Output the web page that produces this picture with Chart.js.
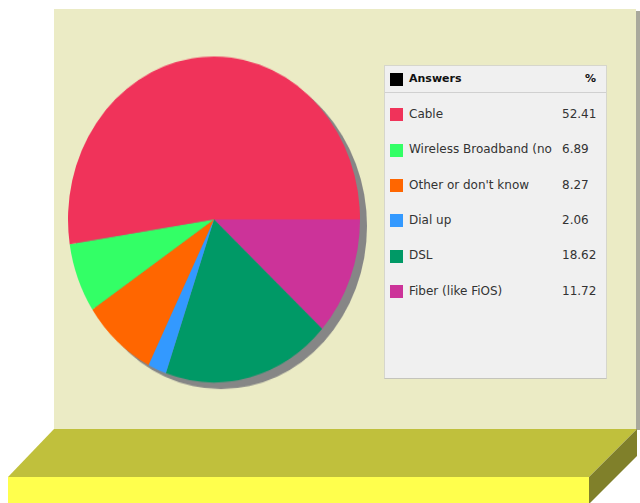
<!DOCTYPE html>
<html>
<head>
<meta charset="utf-8">
<script src="https://cdn.jsdelivr.net/npm/chart.js@4"></script>
<style>
  body { margin: 0; background: #fff; }
  #stage { position: relative; width: 640px; height: 503px; overflow: hidden; font-family: "DejaVu Sans", Verdana, sans-serif; }
  #bg { position: absolute; left: 0; top: 0; }
  #pieWrap { position: absolute; left: 64px; top: 52px; width: 310px; height: 310px; transform: scaleY(1.116); transform-origin: 0 0; }
  #legend { position: absolute; left: 384px; top: 65px; width: 221px; height: 312px; background: #f0f0f0; border: 1px solid #d6d6cc; border-bottom-color: #c4c4bc; }
  #legend .head { position: absolute; left: 0; top: 0; width: 221px; height: 26px; border-bottom: 1px solid #d0d0d0; }
  #legend .sw { position: absolute; left: 5px; width: 13px; height: 13px; }
  #legend .lab { position: absolute; left: 24px; width: 149px; overflow: hidden; white-space: nowrap; font-size: 12px; color: #333; }
  #legend .val { position: absolute; left: 177px; font-size: 12px; color: #333; }
  #legend .hlab { position: absolute; left: 24px; top: 6px; font-size: 11px; font-weight: bold; color: #111; }
  #legend .hval { position: absolute; right: 10px; top: 6px; font-size: 11px; font-weight: bold; color: #111; }
</style>
</head>
<body>
<div id="stage">
  <svg id="bg" width="640" height="503">
    <rect x="54" y="9" width="582" height="421" fill="#ebebc5"/>
    <rect x="636" y="11" width="4" height="419" fill="#a9a99c"/>
    <polygon points="54,429 637,429 589,477 8,477" fill="#c0c03c"/>
    <rect x="8" y="477" width="581" height="26" fill="#ffff4d"/>
    <polygon points="589,477 637,429 637,456 589,504" fill="#80802a"/>
  </svg>
  <div id="pieWrap"><canvas id="chart" width="310" height="310"></canvas></div>
  <div id="legend">
    <div class="head">
      <div class="sw" style="top:7px;background:#000"></div>
      <div class="hlab" id="headLabel"></div>
      <div class="hval" id="headValue"></div>
    </div>
  </div>
</div>
<script>
const headerLabel = "Answers";
const headerValue = "%";
const categories = ["Cable", "Wireless Broadband (no", "Other or don't know", "Dial up", "DSL", "Fiber (like FiOS)"];
const percents = [52.41, 6.89, 8.27, 2.06, 18.62, 11.72];
const colors = ["#f0335a", "#33ff66", "#ff6600", "#3399ff", "#009966", "#cc3399"];

// legend table on the right
const legend = document.getElementById("legend");
document.getElementById("headLabel").textContent = headerLabel;
document.getElementById("headValue").textContent = headerValue;
categories.forEach((name, i) => {
  const mid = 27 + 4 + 17.7 + i * 35.4;
  const sw = document.createElement("div");
  sw.className = "sw";
  sw.style.top = (mid - 6.5) + "px";
  sw.style.background = colors[i];
  const lab = document.createElement("div");
  lab.className = "lab";
  lab.style.top = (mid - 8) + "px";
  lab.textContent = name;
  const val = document.createElement("div");
  val.className = "val";
  val.style.top = (mid - 8) + "px";
  val.textContent = percents[i].toFixed(2);
  legend.append(sw, lab, val);
});

// grey drop shadow behind the pie
const pieShadow = {
  id: "pieShadow",
  beforeDatasetsDraw(chart) {
    const arc = chart.getDatasetMeta(0).data[0];
    if (!arc) return;
    const c = chart.ctx;
    c.save();
    c.fillStyle = "#868686";
    c.beginPath();
    c.arc(arc.x + 7, arc.y + 6, arc.outerRadius, 0, Math.PI * 2);
    c.fill();
    c.restore();
  },
};

// slices run counter-clockwise from 3 o'clock, so feed them reversed
const ctx = document.getElementById("chart").getContext("2d");
const chart = new Chart(ctx, {
  type: "pie",
  data: {
    labels: categories.slice().reverse(),
    datasets: [
      {
        data: percents.slice().reverse(),
        backgroundColor: colors.slice().reverse(),
        borderWidth: 0,
        hoverOffset: 0,
        offset: 0,
      },
    ],
  },
  options: {
    responsive: false,
    animation: false,
    events: [],
    rotation: 90,
    layout: { padding: { left: 4, top: 4, right: 14, bottom: 14 } },
    plugins: {
      legend: { display: false },
      tooltip: { enabled: false },
    },
  },
  plugins: [pieShadow],
});
</script>
</body>
</html>
